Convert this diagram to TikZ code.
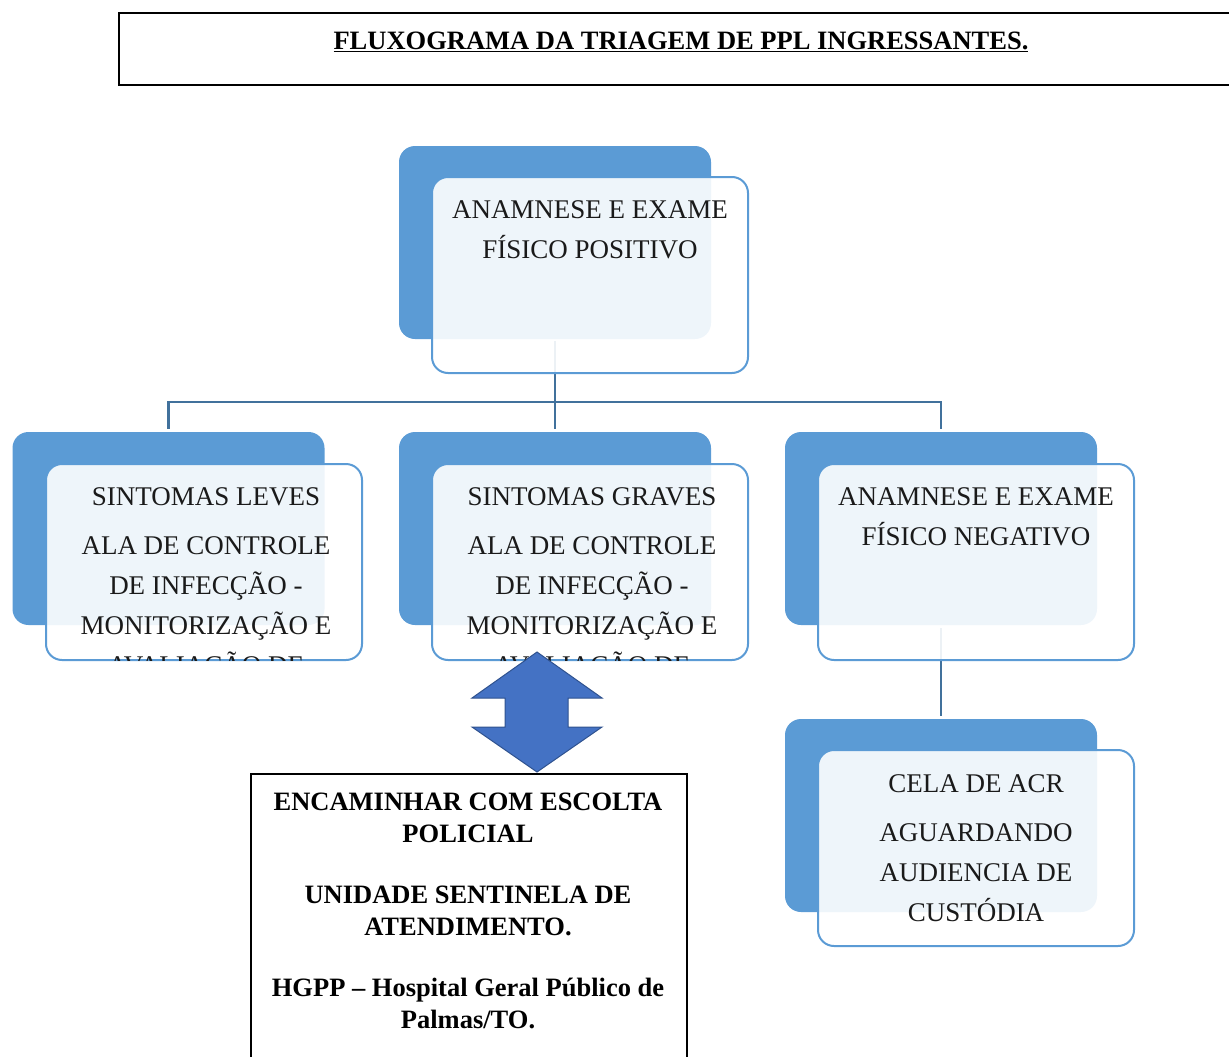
\documentclass[tikz,border=0pt]{standalone}
\usepackage{fontspec}
\setmainfont{Liberation Serif}
\definecolor{backblue}{HTML}{5B9BD5}
\definecolor{linkblue}{HTML}{41719C}
\definecolor{arrowblue}{HTML}{4472C4}
\definecolor{arrowedge}{HTML}{2F528F}
\definecolor{txt}{HTML}{1A1A1A}
\tikzset{
  backbox/.style={fill=backblue, rounded corners=16pt, minimum width=312pt, minimum height=193pt, inner sep=0pt, draw=none},
  frontbox/.style={fill=white, fill opacity=0.9, draw=backblue, draw opacity=1, line width=2pt, rounded corners=16pt, minimum width=316pt, minimum height=196pt, inner sep=0pt},
  conn/.style={draw=linkblue, line width=2.5pt},
  boxtext/.style={align=center, text=txt, font=\fontsize{27}{40}\selectfont, inner sep=0pt, anchor=base},
  plainbox/.style={draw=black, line width=2pt, inner sep=0pt, anchor=north west},
  dblarrow/.style={fill=arrowblue, draw=arrowedge, line width=1pt, line join=miter},
}
\begin{document}
\begin{tikzpicture}[x=1pt, y=-1pt]
\useasboundingbox (0,0) rectangle (1229,1057);
% title
\node[plainbox, minimum width=1130pt, minimum height=72pt] (tbox) at (118,12) {};
\node[anchor=base, inner sep=0pt, font=\bfseries\fontsize{26.5}{30}\selectfont] (title) at (681,49) {\underline{FLUXOGRAMA DA TRIAGEM DE PPL INGRESSANTES.}};
% back boxes
\node[backbox] (b1) at (555,242.5) {};
\node[backbox] (b2) at (168.5,528.5) {};
\node[backbox] (b3) at (555,528.5) {};
\node[backbox] (b4) at (941,528.5) {};
\node[backbox] (b5) at (941,815.5) {};
% connectors
\coordinate (bar) at (555,402);
\draw[conn] ([yshift=-2pt]b1.south) -- (bar);
\draw[conn] ([yshift=3pt]b2.north) |- (bar) -| ([yshift=3pt]b4.north);
\draw[conn] (bar) -- ([yshift=3pt]b3.north);
\draw[conn] ([yshift=-3pt]b4.south) -- ([yshift=3pt]b5.north);
% front boxes
\node[frontbox] (f1) at (590,275) {};
\node[frontbox] (f2) at (204,562) {};
\node[frontbox] (f3) at (590,562) {};
\node[frontbox] (f4) at (976,562) {};
\node[frontbox] (f5) at (976,848) {};
% texts (base anchor = baseline of last line)
\node[boxtext] (t1) at (590,258) {ANAMNESE E EXAME\\FÍSICO POSITIVO};
\begin{scope}
  \clip[rounded corners=16pt] (47,464) rectangle (361,660);
  \node[boxtext] (t2) at (206,674) {SINTOMAS LEVES\\[9pt]ALA DE CONTROLE\\DE INFECÇÃO -\\MONITORIZAÇÃO E\\AVALIAÇÃO DE};
\end{scope}
\begin{scope}
  \clip[rounded corners=16pt] (433,464) rectangle (747,660);
  \node[boxtext] (t3) at (592,674) {SINTOMAS GRAVES\\[9pt]ALA DE CONTROLE\\DE INFECÇÃO -\\MONITORIZAÇÃO E\\AVALIAÇÃO DE};
\end{scope}
\node[boxtext] (t4) at (976,545) {ANAMNESE E EXAME\\FÍSICO NEGATIVO};
\node[boxtext] (t5) at (976,921) {CELA DE ACR\\[9pt]AGUARDANDO\\AUDIENCIA DE\\CUSTÓDIA};
% double arrow
\draw[dblarrow] (537,652) -- (602,698) -- (568,698) -- (568,727) -- (602,727) -- (537,772) -- (472,727) -- (505,727) -- (505,698) -- (472,698) -- cycle;
% bottom box
\node[plainbox, minimum width=436pt, minimum height=300pt] (hbox) at (250,773) {};
\node[anchor=base, align=center, inner sep=0pt, font=\bfseries\fontsize{26.5}{32.5}\selectfont] (htext) at (468,1028.5) {ENCAMINHAR COM ESCOLTA\\POLICIAL\\[28pt]UNIDADE SENTINELA DE\\ATENDIMENTO.\\[28pt]HGPP – Hospital Geral Público de\\Palmas/TO.};
\end{tikzpicture}
\end{document}
